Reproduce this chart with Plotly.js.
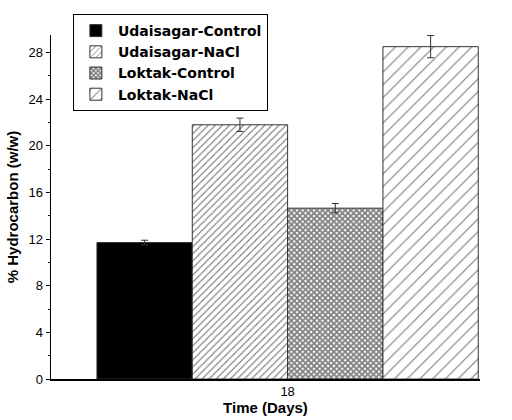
<!DOCTYPE html>
<html>
<head>
<meta charset="utf-8">
<script src="https://cdn.plot.ly/plotly-3.0.1.min.js"></script>
<style>html,body{margin:0;padding:0;background:#fff;}#chart{width:512px;height:420px;}</style>
</head>
<body>
<div id="chart"></div>
<script>
const category = ['18'];
const seriesNames = ['Udaisagar-Control', 'Udaisagar-NaCl', 'Loktak-Control', 'Loktak-NaCl'];
const udaisagarControl = [11.7];
const udaisagarNaCl = [21.8];
const loktakControl = [14.65];
const loktakNaCl = [28.5];
const udaisagarControlErr = [0.2];
const udaisagarNaClErr = [0.57];
const loktakControlErr = [0.4];
const loktakNaClErr = [0.95];
const yTickVals = [0, 4, 8, 12, 16, 20, 24, 28];
const yMinorTickVals = [2, 6, 10, 14, 18, 22, 26];

const values = [udaisagarControl, udaisagarNaCl, loktakControl, loktakNaCl];
const errs = [udaisagarControlErr, udaisagarNaClErr, loktakControlErr, loktakNaClErr];
const patterns = [
  {shape: '', fillmode: 'replace'},
  {shape: '/', size: 5, solidity: 0.22, fgcolor: '#000', bgcolor: '#fff', fillmode: 'overlay'},
  {shape: 'x', size: 4, solidity: 0.7, fgcolor: '#000', bgcolor: '#fff', fillmode: 'overlay'},
  {shape: '/', size: 9, solidity: 0.13, fgcolor: '#000', bgcolor: '#fff', fillmode: 'overlay'}
];
const fills = ['#000', '#fff', '#fff', '#fff'];

const traces = seriesNames.map((n, i) => ({
  type: 'bar',
  name: n,
  x: category,
  y: values[i],
  marker: {color: fills[i], pattern: patterns[i], line: {color: '#333', width: 1}},
  error_y: {type: 'data', array: errs[i], visible: true, color: '#333', thickness: 1, width: 3.5}
}));

const layout = {
  width: 512, height: 420,
  margin: {l: 51, r: 32, t: 35, b: 41},
  paper_bgcolor: '#fff', plot_bgcolor: '#fff',
  font: {family: 'Liberation Sans, Arial, sans-serif', color: '#000', size: 13},
  barmode: 'group', bargap: 0, bargroupgap: 0,
  showlegend: true,
  legend: {
    x: 0.051, y: 1.061, xanchor: 'left', yanchor: 'top',
    bgcolor: '#fff', bordercolor: '#000', borderwidth: 1,
    font: {size: 14, family: 'DejaVu Sans, sans-serif', weight: 'bold', color: '#000'},
    tracegroupgap: 0, itemwidth: 34
  },
  xaxis: {
    type: 'category', range: [-0.6205, 0.5045],
    showline: true, linecolor: '#000', linewidth: 1.5, mirror: false,
    ticks: '', showgrid: false, zeroline: false,
    tickfont: {size: 13},
    title: {text: '<b>Time (Days)</b>', font: {size: 15}, standoff: 3}
  },
  yaxis: {
    range: [0, 29.5], tickvals: yTickVals,
    showline: true, linecolor: '#000', linewidth: 1.5,
    ticks: 'outside', ticklen: 4, tickcolor: '#000', tickwidth: 1,
    minor: {tickvals: yMinorTickVals, ticks: 'outside', ticklen: 2, tickcolor: '#000'},
    showgrid: false, zeroline: false,
    tickfont: {size: 13},
    title: {text: '<b>% Hydrocarbon (w/w)</b>', font: {size: 15}, standoff: 6}
  }
};

Plotly.newPlot('chart', traces, layout, {displayModeBar: false, staticPlot: true});
</script>
</body>
</html>
